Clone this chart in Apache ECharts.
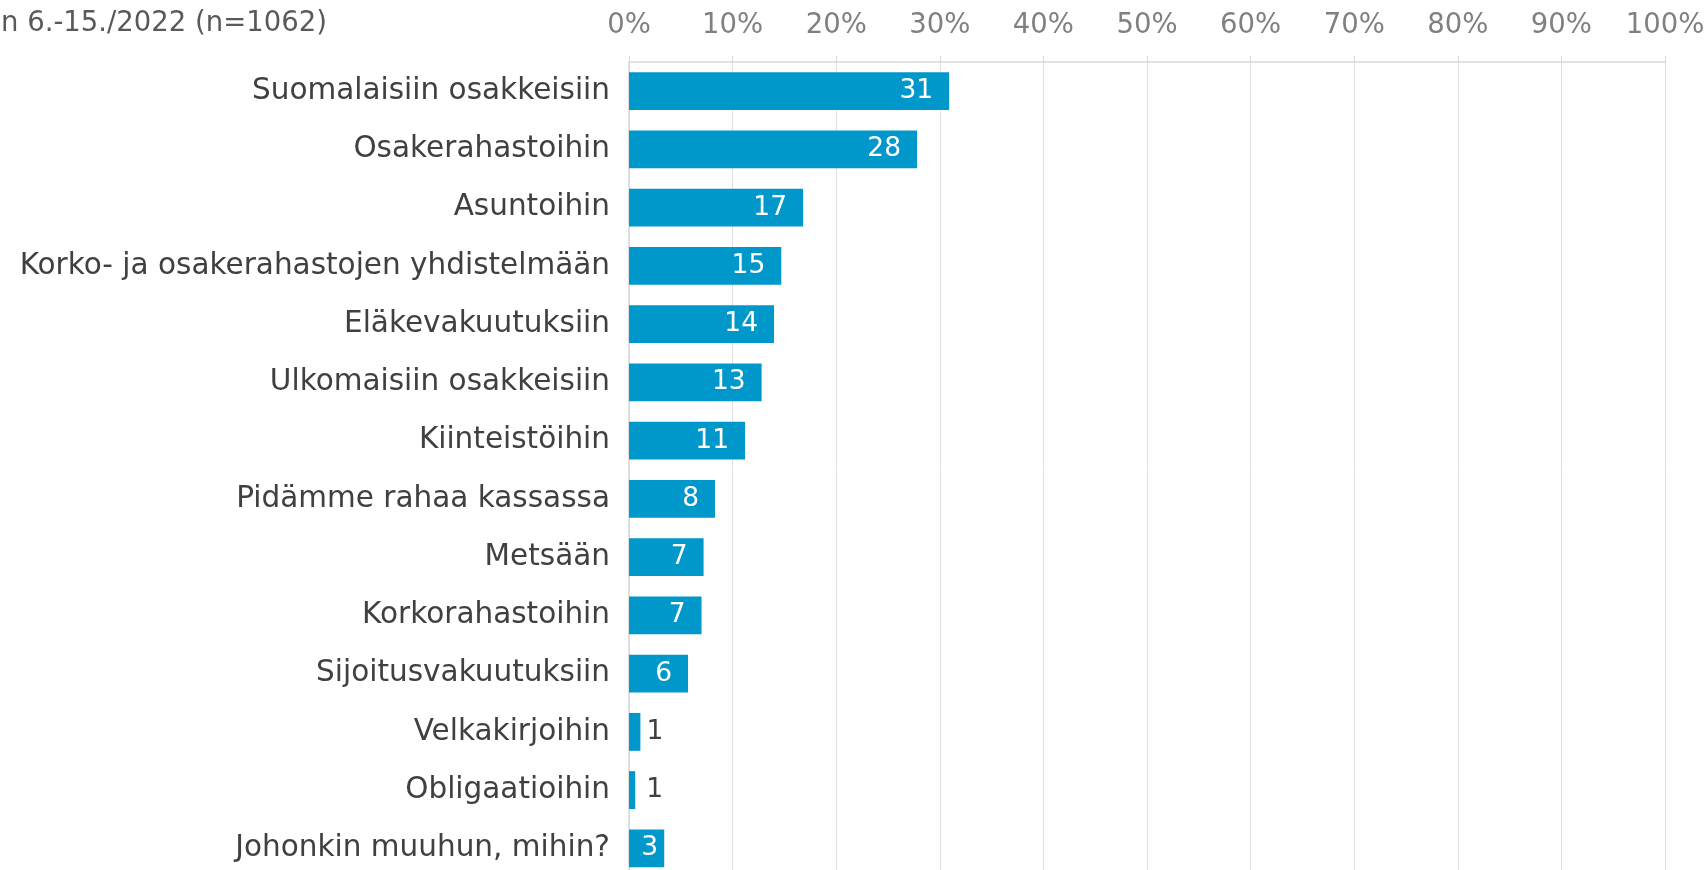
<!DOCTYPE html>
<html><head><meta charset="utf-8">
<script src="https://cdn.jsdelivr.net/npm/echarts@6/dist/echarts.min.js"></script>
<style>html,body{margin:0;padding:0;background:#fff}#c{width:1706px;height:870px}</style>
</head><body><div id="c"></div>
<script>
const categories = ["Suomalaisiin osakkeisiin","Osakerahastoihin","Asuntoihin","Korko- ja osakerahastojen yhdistelmään","Eläkevakuutuksiin","Ulkomaisiin osakkeisiin","Kiinteistöihin","Pidämme rahaa kassassa","Metsään","Korkorahastoihin","Sijoitusvakuutuksiin","Velkakirjoihin","Obligaatioihin","Johonkin muuhun, mihin?"];
const values = [30.9, 27.8, 16.8, 14.7, 14.0, 12.8, 11.2, 8.3, 7.2, 7.0, 5.7, 1.1, 0.6, 3.4];
const labels = [31, 28, 17, 15, 14, 13, 11, 8, 7, 7, 6, 1, 1, 3];
const subtitle = "Kesäkuun 6.-15./2022 (n=1062)";
const FONT = "DejaVu Sans";

const data = values.map((v, i) => {
  const d = { value: v };
  if (v < 2) {
    d.label = { position: 'right', color: '#404040', distance: v < 1 ? 11 : 6 };
  } else if (v < 4) {
    d.label = { distance: 6 };
  }
  return d;
});

const chart = echarts.init(document.getElementById('c'), null, {renderer: 'canvas'});
chart.setOption({
  animation: false,
  graphic: [{
    type: 'text', right: 1706 - 327, top: 10,
    style: { text: subtitle, font: '27.5px "' + FONT + '"', fill: '#595959', textAlign: 'right' }
  }],
  grid: { left: 629, right: 41, top: 62, height: 815.5, containLabel: false, outerBoundsMode: 'none' },
  xAxis: {
    type: 'value', position: 'top', min: 0, max: 100, interval: 10,
    axisLabel: { formatter: '{value}%', color: '#808080', fontFamily: FONT, fontSize: 27.5, margin: 22 },
    axisLine: { show: true, lineStyle: { color: '#d9d9d9', width: 1.5 } },
    axisTick: { show: true, length: 6, lineStyle: { color: '#d9d9d9' } },
    splitLine: { show: true, lineStyle: { color: '#e0e0e0', width: 1 } }
  },
  yAxis: {
    type: 'category', inverse: true, data: categories,
    axisLabel: { color: '#404040', fontFamily: FONT, fontSize: 29.5, margin: 19 },
    axisLine: { show: true, lineStyle: { color: '#d9d9d9', width: 1.5 } },
    axisTick: { show: false }
  },
  series: [{
    type: 'bar', data: data, barCategoryGap: '35%',
    itemStyle: { color: '#0097CB' },
    label: {
      show: true, position: 'insideRight', distance: 16, color: '#ffffff',
      fontFamily: FONT, fontSize: 26.5,
      formatter: p => labels[p.dataIndex]
    }
  }]
});
</script></body></html>
